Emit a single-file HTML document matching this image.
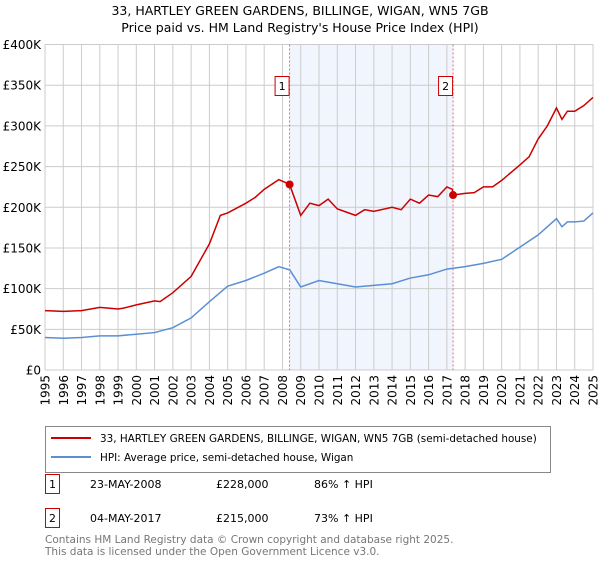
<!DOCTYPE html>
<html><head><meta charset="utf-8"><style>
body{margin:0;background:#fff;font-family:"Liberation Sans","DejaVu Sans",sans-serif;}
svg text{font-family:"DejaVu Sans","Liberation Sans",sans-serif;}
</style></head><body>
<svg width="600" height="560" viewBox="0 0 600 560">
<text x="300" y="15" text-anchor="middle" font-size="12.5" fill="#000">33, HARTLEY GREEN GARDENS, BILLINGE, WIGAN, WN5 7GB</text>
<text x="300" y="32" text-anchor="middle" font-size="12.5" fill="#000">Price paid vs. HM Land Registry's House Price Index (HPI)</text>
<g id="plot"></g>
<g>
<rect x="45.5" y="426.5" width="505" height="46" fill="#fff" stroke="#888"/>
<line x1="51" y1="438" x2="91" y2="438" stroke="#cc0000" stroke-width="2"/>
<text x="100" y="442" font-size="10.4">33, HARTLEY GREEN GARDENS, BILLINGE, WIGAN, WN5 7GB (semi-detached house)</text>
<line x1="51" y1="457" x2="91" y2="457" stroke="#5b8fd4" stroke-width="2"/>
<text x="100" y="461" font-size="10.4">HPI: Average price, semi-detached house, Wigan</text>
</g>
<g font-size="11">
<rect x="45.5" y="474.5" width="14" height="19" fill="#fff" stroke="#cc0000"/>
<text x="52.5" y="488" text-anchor="middle">1</text>
<text x="90" y="488">23-MAY-2008</text>
<text x="216" y="488">£228,000</text>
<text x="314" y="488">86% ↑ HPI</text>
<rect x="45.5" y="508.5" width="14" height="19" fill="#fff" stroke="#cc0000"/>
<text x="52.5" y="522" text-anchor="middle">2</text>
<text x="90" y="522">04-MAY-2017</text>
<text x="216" y="522">£215,000</text>
<text x="314" y="522">73% ↑ HPI</text>
</g>
<text x="45" y="543" font-size="10.5" fill="#777">Contains HM Land Registry data © Crown copyright and database right 2025.</text>
<text x="45" y="555" font-size="10.5" fill="#777">This data is licensed under the Open Government Licence v3.0.</text>
</svg>
<script>
const years=[1995,1996,1997,1998,1999,2000,2001,2002,2003,2004,2005,2006,2007,2008,2009,2010,2011,2012,2013,2014,2015,2016,2017,2018,2019,2020,2021,2022,2023,2024,2025];
const yTicks=[0,50,100,150,200,250,300,350,400];
const yTickLabels=["£0","£50K","£100K","£150K","£200K","£250K","£300K","£350K","£400K"];
const redT=[1995,1996,1997,1998,1999,1999.3,2000,2001,2001.3,2002,2003,2004,2004.6,2005,2006,2006.5,2007,2007.8,2008.39,2009,2009.5,2010,2010.5,2011,2012,2012.5,2013,2014,2014.5,2015,2015.5,2016,2016.5,2017,2017.3,2017.34,2018,2018.5,2019,2019.5,2020,2021,2021.5,2022,2022.5,2023,2023.3,2023.6,2024,2024.5,2025];
const redV=[73,72,73,77,75,76,80,85,84,95,115,155,190,193,205,212,222,234,228,190,205,202,210,198,190,197,195,200,197,210,205,215,213,225,222,215,217,218,225,225,233,252,262,284,300,322,308,318,318,325,335];
const blueT=[1995,1996,1997,1998,1999,2000,2001,2002,2003,2004,2005,2006,2007,2007.8,2008.4,2009,2010,2011,2012,2013,2014,2015,2016,2017,2018,2019,2020,2021,2022,2023,2023.3,2023.6,2024,2024.5,2025];
const blueV=[40,39,40,42,42,44,46,52,64,84,103,110,119,127,123,102,110,106,102,104,106,113,117,124,127,131,136,151,166,186,176,182,182,183,193];
const sales=[[2008.39,228],[2017.34,215]];
const x0=45,x1=593,yb=370,yt=44.5;
const X=t=>x0+(t-1995)/30*(x1-x0);
const Y=v=>yb-v/400*(yb-yt);
const NS="http://www.w3.org/2000/svg";
const g=document.getElementById('plot');
function mk(tag,a,parent){const e=document.createElementNS(NS,tag);for(const k in a)e.setAttribute(k,a[k]);(parent||g).appendChild(e);return e;}
const shade=mk('rect',{x:X(sales[0][0]),y:yt,width:X(sales[1][0])-X(sales[0][0]),height:yb-yt,fill:'#eef3fc',opacity:0.8});


years.forEach(t=>{const l=mk('line',{x1:X(t),x2:X(t),y1:yt,y2:yb,stroke:'#ccc','stroke-width':1});


const tx=mk('text',{x:0,y:0,'font-size':12,'text-anchor':'end',transform:`translate(${X(t)+4.5},${yb+5}) rotate(-90)`});tx.textContent=t;

});
yTicks.forEach((v,i)=>{const l=mk('line',{x1:x0,x2:x1,y1:Y(v),y2:Y(v),stroke:'#ccc','stroke-width':1});


const tx=mk('text',{x:x0-4,y:Y(v)+4.5,'font-size':12,'text-anchor':'end'});tx.textContent=yTickLabels[i];

});
sales.forEach((s,i)=>{const l=mk('line',{x1:X(s[0]),x2:X(s[0]),y1:yt,y2:yb,stroke:'#e66','stroke-dasharray':'2,2','stroke-width':1});


const bx=X(s[0]);const r=mk('rect',{x:bx-14.5,y:76.5,width:14,height:19,fill:'#fff',stroke:'#cc0000'});


const tx=mk('text',{x:bx-7.5,y:90,'font-size':11,'text-anchor':'middle'});tx.textContent=String(i+1);

});
const pb=mk('polyline',{points:blueT.map((t,i)=>X(t)+','+Y(blueV[i])).join(' '),fill:'none',stroke:'#5b8fd4','stroke-width':1.5});


const pr=mk('polyline',{points:redT.map((t,i)=>X(t)+','+Y(redV[i])).join(' '),fill:'none',stroke:'#cc0000','stroke-width':1.5});


sales.forEach(s=>{const c=mk('circle',{cx:X(s[0]),cy:Y(s[1]),r:4,fill:'#cc0000'});

});
</script>
</body></html>
